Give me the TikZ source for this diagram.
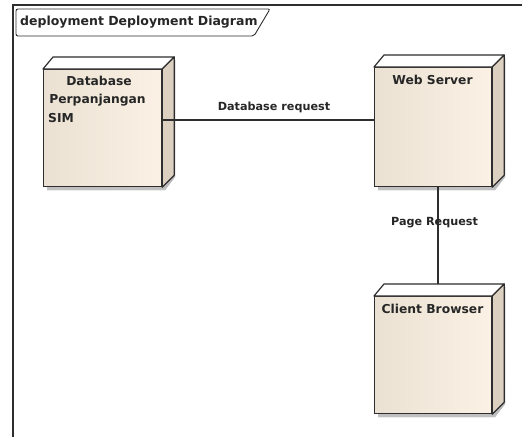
\documentclass[tikz,border=0pt]{standalone}
\usepackage{fontspec}
\setmainfont{DejaVu Sans}
\usetikzlibrary{calc}
\definecolor{edge}{HTML}{2E2E2E}
\definecolor{faceL}{HTML}{EAE1D3}
\definecolor{faceR}{HTML}{FBF2E5}
\definecolor{sideface}{HTML}{DCD0C0}
\definecolor{shade}{HTML}{BDBDBD}
\tikzset{
  frameline/.style={draw=edge, line width=1.1pt},
  nodelabel/.style={font=\bfseries\fontsize{12.3}{15}\selectfont, text=black!85},
  linklabel/.style={font=\bfseries\fontsize{11.2}{13}\selectfont, text=black!85, inner sep=0pt},
  link/.style={draw=edge, line width=1.2pt},
  front/.style={rectangle, draw=edge, line width=1.2pt, left color=faceL, right color=faceR, inner sep=0pt},
}
% a 3-D UML node: named front face plus top and side faces behind it
\newcommand{\umlnode}[5]{% name, x1, y1, x2, y2
  \fill[shade, opacity=0.6] (#4+3,#3-9) -- (#4+14,#3-9) -- (#4+14,#5-9) -- (#4+4,#5+4) -- (#2+4,#5+4) -- (#2+4,#5) -- (#4,#5) -- cycle;
  \node[front, minimum width=#4-#2, minimum height=#5-#3, anchor=north west] (#1) at (#2,#3) {};
  \draw[edge, line width=1.2pt, fill=white, line join=round]
    (#1.north west) -- ++(10,-12) -- ($(#1.north east)+(12,-12)$) -- (#1.north east) -- cycle;
  \draw[edge, line width=1.2pt, fill=sideface, line join=round]
    (#1.north east) -- ++(12,-12) -- ($(#1.south east)+(12,-12)$) -- (#1.south east) -- cycle;
}
\begin{document}
\begin{tikzpicture}[x=1pt, y=-1pt]
\useasboundingbox (0,0) rectangle (522,437);
\fill[white] (0,0) rectangle (522,437);

% diagram frame and its name tab
\draw[frameline] (13,437) -- (13,5) -- (522,5);
\draw[edge, line width=0.9pt, rounded corners=2pt]
  (16,9) -- (270,9) -- (254,36) -- (16,36) -- cycle;
\node[font=\bfseries\fontsize{12.5}{15}\selectfont, text=black!85, anchor=west, inner sep=0pt]
  (title) at (20,22.5) {deployment Deployment Diagram};

% deployment nodes
\umlnode{db}{43}{69}{161}{186}
\umlnode{ws}{374}{67}{491}{186}
\umlnode{cb}{374}{296}{491}{413}

\node[nodelabel, inner sep=0pt] (dbl1) at (99,81) {Database};
\node[nodelabel, inner sep=0pt] (dbl2) at (97.5,100) {Perpanjangan};
\node[nodelabel, inner sep=0pt, anchor=west] (dbl3) at (48,118.5) {SIM};
\node[nodelabel, inner sep=0pt] (wsl) at (432.5,80) {Web Server};
\node[nodelabel, inner sep=0pt] (cbl) at (432.5,309) {Client Browser};

% connectors
\coordinate (cbtop) at ($(cb.north -| 438,0)+(0,-12)$);
\draw[link] (db.east |- 0,120) -- (ws.west |- 0,120);
\draw[link] (ws.south -| 438,0) -- (cbtop);

\node[linklabel] (dbreq) at (274,107) {Database request};
\node[linklabel] (pgreq) at (434.5,223) {Page Request};
\end{tikzpicture}
\end{document}
